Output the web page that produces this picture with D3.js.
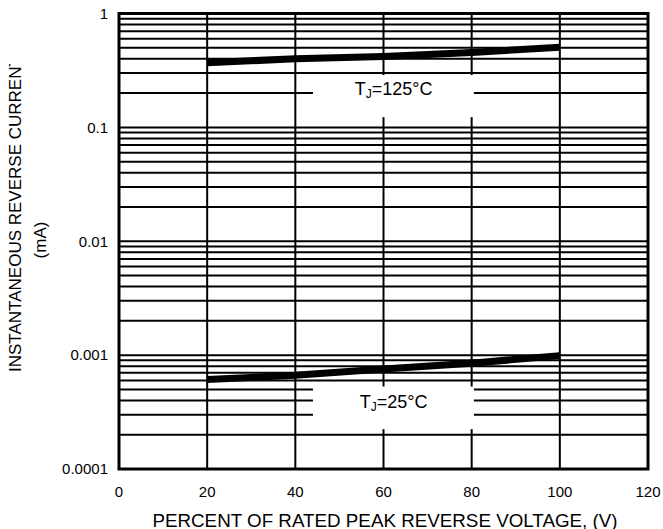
<!DOCTYPE html>
<html>
<head>
<meta charset="utf-8">
<script src="https://cdn.jsdelivr.net/npm/d3@7"></script>
<style>
  html, body { margin: 0; padding: 0; background: #fff; }
  text { font-family: "Liberation Sans", Arial, sans-serif; fill: #000; }
</style>
</head>
<body>
<div id="chart"></div>
<script>
// Chart data

const xTicks = [0, 20, 40, 60, 80, 100, 120];                        // Percent of rated peak reverse voltage
const yTicks = [0.0001, 0.001, 0.01, 0.1, 1];                        // Decade labels (mA)
const yTickLabels = ["0.0001", "0.001", "0.01", "0.1", "1"];
const voltagePct = [20, 40, 60, 80, 100];                            // Curve sample points
const current125 = [0.37, 0.40, 0.42, 0.455, 0.505];                 // TJ = 125°C
const current25 = [0.00061, 0.000665, 0.000755, 0.00085, 0.00099];   // TJ = 25°C

// Dimensions

const W = 663, H = 529;
const margin = {top: 13.5, right: 15, bottom: 60, left: 119};
const width = W - margin.left - margin.right;
const height = H - margin.top - margin.bottom;

const svg = d3.select("#chart").append("svg")
    .attr("width", W)
    .attr("height", H);

const g = svg.append("g")
    .attr("transform", "translate(" + margin.left + "," + margin.top + ")");

const x = d3.scaleLinear().domain([0, 120]).range([0, width]);
const y = d3.scaleLog().domain([0.0001, 1]).range([height, 0]);

// Grid lines: every minor step of each decade, every 20 %

const minor = [];
yTicks.slice(0, -1).forEach(function(d) {
    for (let k = 1; k <= 9; k++) minor.push(d * k);
});

g.selectAll(".hgrid")
    .data(minor)
    .enter()
    .append("line")
        .attr("x1", 0).attr("x2", width)
        .attr("y1", function(d) { return y(d); })
        .attr("y2", function(d) { return y(d); })
        .attr("stroke", "#000").attr("stroke-width", 2);

g.selectAll(".vgrid")
    .data(xTicks)
    .enter()
    .append("line")
        .attr("x1", function(d) { return x(d); })
        .attr("x2", function(d) { return x(d); })
        .attr("y1", 0).attr("y2", height)
        .attr("stroke", "#000").attr("stroke-width", 2);

// White label boxes that cut the grid

const boxes = [
    {x0: 44, x1: 80.5, y0: 0.288, y1: 0.123, label: "125°C", ty: 0.22},
    {x0: 44, x1: 80.5, y0: 0.00053, y1: 0.000224, label: "25°C", ty: 0.00039}
];

g.selectAll(".box")
    .data(boxes)
    .enter()
    .append("rect")
        .attr("x", function(d) { return x(d.x0); })
        .attr("width", function(d) { return x(d.x1) - x(d.x0); })
        .attr("y", function(d) { return y(d.y0); })
        .attr("height", function(d) { return y(d.y1) - y(d.y0); })
        .attr("fill", "#fff");

const lbl = g.selectAll(".lbl")
    .data(boxes)
    .enter()
    .append("text")
        .attr("x", x(62.3))
        .attr("y", function(d) { return y(d.ty); })
        .attr("dy", "0.35em")
        .attr("text-anchor", "middle")
        .style("font-size", "18px");
lbl.append("tspan").text("T");
lbl.append("tspan").attr("dy", "3").style("font-size", "12px").text("J");
lbl.append("tspan").attr("dy", "-3").text(function(d) { return "=" + d.label; });

// Outer frame

g.append("rect")
    .attr("width", width).attr("height", height)
    .attr("fill", "none").attr("stroke", "#000").attr("stroke-width", 3);

// Curves

const line = d3.line()
    .x(function(d) { return x(d[0]); })
    .y(function(d) { return y(d[1]); });

[current125, current25].forEach(function(series) {
    g.append("path")
        .datum(voltagePct.map(function(v, i) { return [v, series[i]]; }))
        .attr("d", line)
        .attr("fill", "none")
        .attr("stroke", "#000")
        .attr("stroke-width", 7)
        .attr("stroke-linecap", "butt");
});

// Axes labels

g.selectAll(".xt")
    .data(xTicks)
    .enter()
    .append("text")
        .attr("x", function(d) { return x(d); })
        .attr("y", height + 23)
        .attr("dy", "0.35em")
        .attr("text-anchor", "middle")
        .style("font-size", "15px")
        .text(function(d) { return d; });

g.selectAll(".yt")
    .data(yTicks)
    .enter()
    .append("text")
        .attr("x", -11)
        .attr("y", function(d) { return y(d); })
        .attr("dy", "0.35em")
        .attr("text-anchor", "end")
        .style("font-size", "15px")
        .text(function(d, i) { return yTickLabels[i]; });

svg.append("text")
    .attr("x", 385)
    .attr("y", 526.5)
    .attr("text-anchor", "middle")
    .style("font-size", "18.8px")
    .text("PERCENT OF RATED PEAK REVERSE VOLTAGE, (V)");

// Y title is clipped at the top, as in the source

svg.append("clipPath").attr("id", "yclip")
    .append("rect").attr("x", 0).attr("y", 64).attr("width", 60).attr("height", 400);

const yTitle = svg.append("g").attr("clip-path", "url(#yclip)");
yTitle.append("text")
    .attr("transform", "translate(21,372) rotate(-90)")
    .attr("text-anchor", "start")
    .style("font-size", "17px")
    .text("INSTANTANEOUS REVERSE CURRENT");
yTitle.append("text")
    .attr("transform", "translate(46,240) rotate(-90)")
    .attr("text-anchor", "middle")
    .style("font-size", "17px")
    .text("(mA)");
</script>
</body>
</html>
